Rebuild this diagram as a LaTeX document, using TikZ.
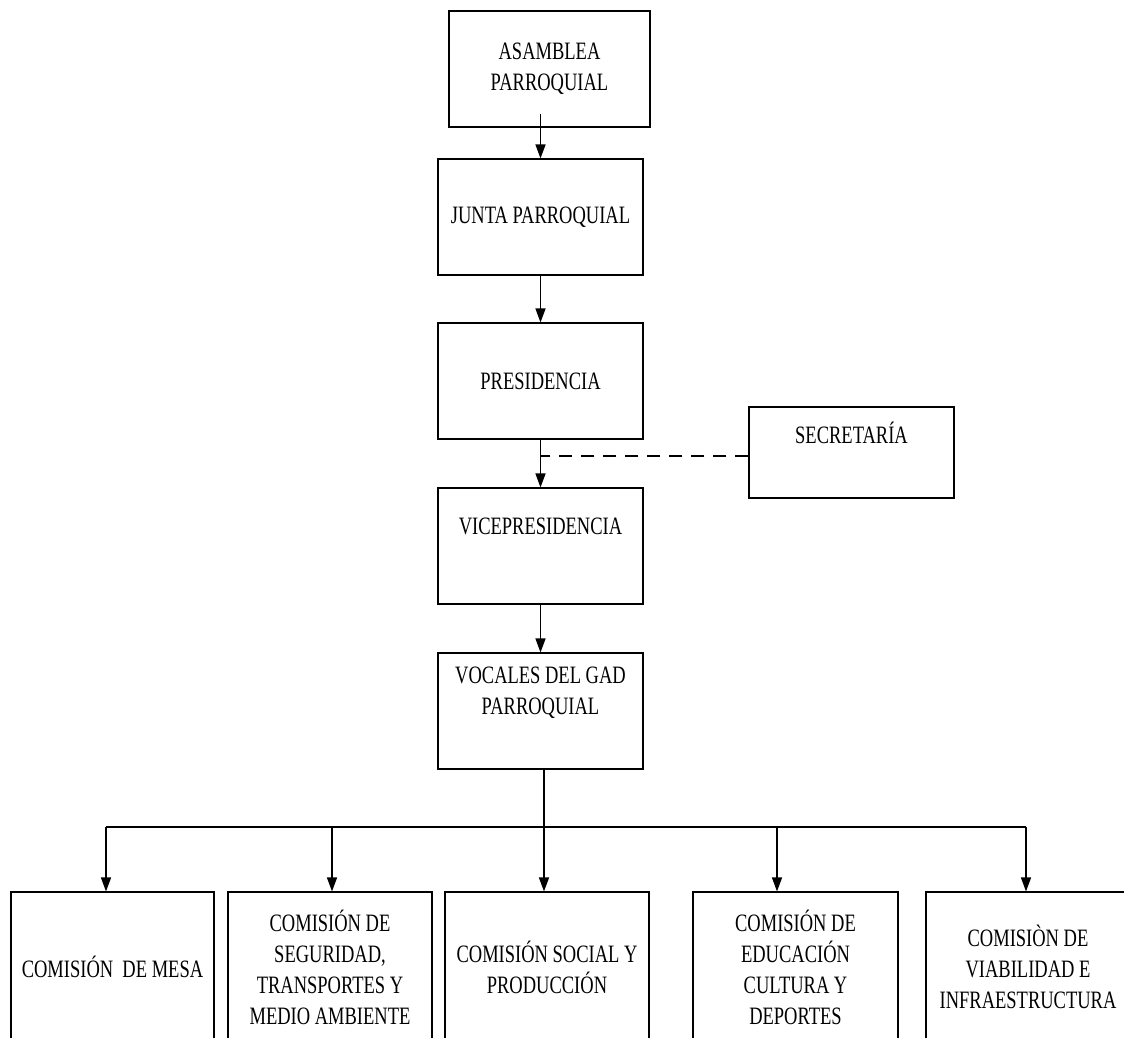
\documentclass[tikz,border=0pt]{standalone}
\usepackage{fontspec}
\setmainfont{Liberation Serif}[FakeStretch=0.74]
\usetikzlibrary{arrows.meta}

\begin{document}
\begin{tikzpicture}[x=1pt, y=-1pt,
    unit/.style={draw, line width=1.1pt, minimum width=205pt, minimum height=116pt,
        align=center, inner sep=0pt, font=\fontsize{25}{31}\selectfont},
    commission/.style={unit, minimum height=150pt},
    link/.style={line width=1.4pt, -{Triangle[length=14pt, width=10pt]}},
    wire/.style={line width=1.4pt}]
    \def\busY{827}

    \useasboundingbox (0,0) rectangle (1124,1037);

    % Main chain
    \node[unit, minimum width=201pt] (asamblea) at (549.5,69) {ASAMBLEA\\PARROQUIAL};
    \node[unit] (junta) at (540.5,217) {JUNTA PARROQUIAL};
    \node[unit] (presidencia) at (540.5,381) {PRESIDENCIA};
    \node[unit] (vicepresidencia) at (540.5,546) {VICEPRESIDENCIA\\ \strut};
    \node[unit] (vocales) at (540.5,711) {VOCALES DEL GAD\\PARROQUIAL\\ \strut};

    % Staff box
    \node[unit, minimum height=91pt] (secretaria) at (851.5,452.5) {SECRETARÍA\\ \strut};

    % Commissions
    \node[commission, minimum width=203pt] (mesa) at (112.5,967) {COMISIÓN~ DE MESA};
    \node[commission, minimum width=204pt] (seguridad) at (330,967) {COMISIÓN DE\\SEGURIDAD,\\TRANSPORTES Y\\MEDIO AMBIENTE};
    \node[commission, minimum width=204pt] (social) at (547,967) {COMISIÓN SOCIAL Y\\PRODUCCIÓN};
    \node[commission] (educacion) at (795.5,967) {COMISIÓN DE\\EDUCACIÓN\\CULTURA Y\\DEPORTES};
    \node[commission, minimum width=204pt] (viabilidad) at (1028,967) {COMISIÒN DE\\VIABILIDAD E\\INFRAESTRUCTURA};

    % Arrows down the chain
    \draw[link] ([yshift=14pt]asamblea.south -| junta.north) -- (junta.north);
    \draw[link] (junta.south) -- (presidencia.north);
    \draw[link] (presidencia.south) -- (vicepresidencia.north);
    \draw[link] (vicepresidencia.south) -- (vocales.north);

    % Dashed line to secretaria
    \draw[wire, dash pattern=on 13pt off 9pt] ([yshift=-3.5pt]secretaria.west) -- ([yshift=-3.5pt]secretaria.west -| presidencia.south);

    % Bus to the commissions
    \foreach \n/\x in {mesa/106, seguridad/332, social/544, educacion/777, viabilidad/1026}
        \coordinate (drop\n) at (\x,\busY);
    \draw[wire] (vocales.south -| dropsocial) -- (dropsocial);
    \draw[wire] (dropmesa) -- (dropviabilidad);
    \foreach \n in {mesa, seguridad, social, educacion, viabilidad}
        \draw[link] (drop\n) -- (drop\n |- \n.north);

\end{tikzpicture}
\end{document}
